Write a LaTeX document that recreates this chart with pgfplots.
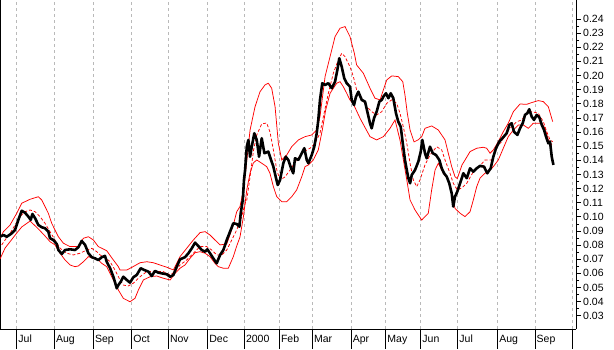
\documentclass[border=0pt]{standalone}
\usepackage{fontspec}
\setmainfont{Liberation Sans}
\usepackage{pgfplots}
\pgfplotsset{compat=1.18}
\begin{document}
\begin{tikzpicture}
\begin{axis}[
  scale only axis, width=576pt, height=329pt,
  xmin=-13.8, xmax=460.7, ymin=0.0206, ymax=0.2534,
  separate axis lines,
  axis x line*=bottom, axis y line*=box,
  axis line style={black, line width=0.8pt},
  tick align=outside,
  xtick={0,31,63.1,94.7,124.9,157.3,187.5,216.3,243.5,275.4,304,332.8,363.3,396.2,426.9,458},
  xticklabels={Jul,Aug,Sep,Oct,Nov,Dec,2000,Feb,Mar,Apr,May,Jun,Jul,Aug,Sep,{}},
  minor x tick num=3,
  xtick pos=left, ytick pos=right, yticklabel pos=right,
  ytick={0.03,0.04,0.05,0.06,0.07,0.08,0.09,0.10,0.11,0.12,0.13,0.14,0.15,0.16,0.17,0.18,0.19,0.20,0.21,0.22,0.23,0.24},
  minor y tick num=1,
  major tick length=5pt, minor tick length=3pt,
  xmajorgrids, major grid style={gray!55, dash pattern=on 3pt off 3pt, line width=0.6pt},
  tick style={black, line width=0.6pt},
  /pgf/number format/assume math mode=true,
  yticklabel style={/pgf/number format/fixed, /pgf/number format/fixed zerofill, /pgf/number format/precision=2, inner sep=1pt, xshift=1pt},
  ticklabel style={font=\fontsize{10.5}{12}\selectfont},
  xticklabel style={anchor=north west, inner sep=0pt, xshift=1.5pt, yshift=-1pt},
  clip=false,
]
\pgfplotsinvokeforeach{0,31,63.1,94.7,124.9,157.3,187.5,216.3,243.5,275.4,304,332.8,363.3,396.2,426.9,458}{
  \draw[black, line width=0.6pt] (axis cs:#1,0.0206) -- ++(0pt,-20pt);
}
% upper band
\addplot[red, line width=0.75pt] coordinates {
(-13.8,0.0848)(-11.0,0.0895)(-5.5,0.0942)(0.0,0.1025)(4.1,0.1096)(11.0,0.1124)(17.8,0.1142)(20.6,0.1119)(23.3,0.1072)(26.0,0.1025)(28.8,0.0954)(31.5,0.0907)(34.3,0.0859)(38.4,0.0813)(43.9,0.0789)(50.7,0.0789)(54.9,0.0848)(59.0,0.0859)(63.1,0.0836)(67.2,0.0789)(74.1,0.0760)(79.6,0.0694)(83.7,0.0647)(85.1,0.0623)(90.6,0.0623)(96.0,0.0648)(101.6,0.0675)(107.1,0.0682)(112.5,0.0675)(118.0,0.0659)(123.6,0.0643)(129.0,0.0624)(131.8,0.0671)(134.5,0.0718)(140.0,0.0777)(145.5,0.0836)(151.0,0.0888)(155.1,0.0895)(159.2,0.0871)(163.3,0.0836)(167.5,0.0801)(173.0,0.0808)(178.4,0.0942)(181.2,0.1036)(183.9,0.1072)(186.7,0.1190)(188.1,0.1284)(192.2,0.1614)(196.3,0.1779)(200.4,0.1885)(204.5,0.1933)(207.2,0.1945)(210.0,0.1910)(212.8,0.1779)(215.5,0.1520)(218.3,0.1402)(222.4,0.1437)(226.5,0.1496)(232.0,0.1544)(237.5,0.1567)(243.0,0.1579)(247.1,0.1614)(249.8,0.1709)(254.0,0.1992)(258.1,0.2133)(262.2,0.2275)(266.3,0.2334)(270.4,0.2346)(274.5,0.2275)(278.1,0.2157)(280.0,0.2074)(285.5,0.2016)(291.0,0.1910)(295.1,0.1839)(299.3,0.1827)(302.0,0.1898)(304.8,0.1968)(308.9,0.1997)(314.3,0.1992)(318.0,0.1956)(319.8,0.1862)(321.7,0.1735)(324.0,0.1614)(327.3,0.1530)(330.6,0.1544)(333.6,0.1567)(336.3,0.1626)(341.8,0.1643)(347.3,0.1614)(352.8,0.1544)(355.5,0.1450)(358.3,0.1355)(361.0,0.1284)(362.9,0.1270)(366.8,0.1367)(369.3,0.1402)(373.4,0.1461)(378.9,0.1485)(384.3,0.1492)(387.1,0.1485)(389.9,0.1450)(392.6,0.1473)(396.7,0.1532)(400.8,0.1602)(404.9,0.1662)(409.1,0.1744)(414.6,0.1798)(420.1,0.1796)(424.2,0.1808)(429.6,0.1822)(433.8,0.1815)(437.9,0.1779)(441.5,0.1673)
};
% lower band
\addplot[red, line width=0.75pt] coordinates {
(-13.8,0.0701)(-9.6,0.0779)(-5.5,0.0824)(0.0,0.0885)(4.1,0.0928)(11.0,0.0970)(17.8,0.0914)(23.3,0.0864)(27.4,0.0824)(31.5,0.0801)(35.7,0.0742)(39.8,0.0694)(43.9,0.0659)(48.0,0.0647)(50.7,0.0652)(54.9,0.0682)(59.0,0.0718)(63.1,0.0706)(67.2,0.0694)(70.0,0.0671)(74.1,0.0647)(78.2,0.0576)(80.9,0.0530)(83.7,0.0482)(87.8,0.0423)(93.3,0.0399)(97.4,0.0423)(100.2,0.0482)(104.3,0.0553)(109.8,0.0576)(115.3,0.0581)(120.8,0.0565)(126.3,0.0553)(130.4,0.0600)(134.5,0.0636)(138.6,0.0659)(142.7,0.0706)(146.9,0.0746)(151.0,0.0753)(155.1,0.0742)(159.2,0.0718)(163.3,0.0671)(166.1,0.0647)(170.2,0.0636)(174.3,0.0636)(178.4,0.0718)(181.2,0.0793)(183.9,0.0857)(186.7,0.0999)(189.5,0.1190)(192.2,0.1310)(194.9,0.1381)(197.7,0.1402)(201.8,0.1379)(205.9,0.1355)(208.6,0.1308)(211.4,0.1213)(214.2,0.1142)(218.3,0.1107)(222.4,0.1107)(226.5,0.1142)(230.6,0.1190)(234.8,0.1284)(237.5,0.1355)(240.2,0.1367)(244.3,0.1402)(248.4,0.1473)(251.7,0.1614)(254.5,0.1756)(258.1,0.1874)(260.8,0.1910)(263.6,0.1945)(266.3,0.1956)(269.0,0.1921)(271.8,0.1874)(274.5,0.1827)(277.3,0.1798)(282.8,0.1697)(291.0,0.1567)(296.5,0.1544)(302.0,0.1567)(307.5,0.1626)(311.6,0.1685)(315.7,0.1544)(318.5,0.1402)(321.3,0.1261)(324.0,0.1119)(328.1,0.1048)(333.6,0.0977)(339.0,0.1025)(341.8,0.1190)(344.6,0.1331)(347.3,0.1379)(351.4,0.1308)(355.5,0.1261)(358.3,0.1166)(361.0,0.1060)(365.2,0.1025)(369.3,0.1001)(373.4,0.1036)(376.1,0.1119)(378.9,0.1213)(381.6,0.1273)(385.7,0.1308)(389.9,0.1331)(392.6,0.1355)(396.7,0.1402)(400.8,0.1485)(404.9,0.1567)(409.1,0.1614)(413.2,0.1650)(417.3,0.1650)(421.4,0.1626)(425.5,0.1662)(432.5,0.1662)(435.2,0.1626)(437.9,0.1544)(440.7,0.1508)
};
% moving average
\addplot[red, line width=0.75pt, dash pattern=on 3pt off 2pt] coordinates {
(-12.4,0.0801)(-9.6,0.0836)(-5.5,0.0883)(-1.4,0.0942)(2.7,0.1001)(6.8,0.1036)(11.0,0.1048)(15.1,0.1036)(19.2,0.1001)(23.3,0.0954)(27.4,0.0895)(31.5,0.0836)(35.7,0.0777)(41.2,0.0742)(46.6,0.0730)(52.1,0.0742)(57.7,0.0765)(61.8,0.0777)(65.9,0.0753)(68.6,0.0730)(72.7,0.0714)(76.9,0.0682)(80.9,0.0624)(85.1,0.0553)(87.8,0.0517)(91.7,0.0510)(96.0,0.0530)(101.6,0.0576)(107.1,0.0612)(112.5,0.0612)(120.8,0.0612)(126.3,0.0588)(130.4,0.0612)(134.5,0.0659)(140.0,0.0694)(145.5,0.0742)(151.0,0.0789)(156.5,0.0789)(160.6,0.0765)(164.7,0.0730)(168.9,0.0730)(173.0,0.0765)(177.1,0.0836)(181.2,0.0907)(185.3,0.1001)(188.1,0.1096)(189.5,0.1118)(192.2,0.1284)(195.1,0.1473)(197.7,0.1579)(201.8,0.1657)(205.9,0.1664)(208.6,0.1600)(211.4,0.1473)(214.2,0.1331)(216.9,0.1261)(221.0,0.1282)(225.1,0.1331)(230.6,0.1402)(236.1,0.1459)(241.6,0.1485)(245.7,0.1520)(249.8,0.1591)(252.6,0.1709)(256.7,0.1874)(260.8,0.2016)(264.9,0.2110)(267.7,0.2157)(270.4,0.2133)(274.5,0.2062)(277.3,0.1992)(280.0,0.1897)(284.2,0.1839)(288.3,0.1779)(292.4,0.1744)(296.5,0.1721)(300.7,0.1744)(304.8,0.1803)(308.9,0.1827)(313.0,0.1803)(315.7,0.1733)(318.4,0.1638)(321.3,0.1520)(324.0,0.1379)(326.7,0.1261)(329.5,0.1213)(332.2,0.1261)(336.3,0.1367)(340.4,0.1437)(345.9,0.1496)(350.1,0.1473)(352.8,0.1402)(356.9,0.1308)(359.6,0.1237)(362.9,0.1190)(366.6,0.1204)(370.7,0.1237)(376.1,0.1319)(381.6,0.1360)(385.7,0.1402)(391.3,0.1402)(395.4,0.1496)(399.5,0.1532)(403.6,0.1602)(407.7,0.1638)(411.9,0.1673)(416.0,0.1685)(420.1,0.1733)(424.2,0.1744)(429.6,0.1733)(433.8,0.1673)(436.6,0.1602)(439.3,0.1544)(441.5,0.1532)
};
% price
\addplot[black, line width=2.6pt, line join=round] coordinates {
(-13.8,0.0859)(-11.0,0.0871)(-8.2,0.0859)(-4.1,0.0883)(-1.4,0.0907)(1.3,0.0978)(4.1,0.1043)(6.8,0.1029)(9.6,0.1001)(11.5,0.0978)(12.9,0.1020)(15.1,0.0990)(17.8,0.0942)(20.6,0.0926)(23.3,0.0919)(26.0,0.0895)(27.4,0.0848)(30.1,0.0836)(32.9,0.0808)(34.3,0.0765)(37.1,0.0737)(39.8,0.0765)(43.9,0.0770)(48.0,0.0765)(50.7,0.0784)(53.5,0.0829)(56.3,0.0801)(59.0,0.0742)(61.8,0.0714)(64.5,0.0706)(67.2,0.0694)(70.0,0.0714)(72.7,0.0723)(74.1,0.0682)(76.9,0.0636)(79.6,0.0576)(82.4,0.0494)(83.7,0.0517)(85.7,0.0541)(87.8,0.0576)(90.6,0.0553)(93.3,0.0534)(96.0,0.0572)(98.8,0.0588)(102.1,0.0636)(104.9,0.0624)(108.4,0.0612)(111.2,0.0581)(113.9,0.0617)(116.6,0.0605)(119.4,0.0600)(123.6,0.0593)(126.3,0.0576)(129.0,0.0588)(131.8,0.0647)(134.5,0.0699)(138.6,0.0714)(141.4,0.0742)(144.2,0.0777)(146.9,0.0817)(149.6,0.0793)(152.4,0.0765)(155.1,0.0753)(157.0,0.0770)(159.2,0.0742)(161.9,0.0706)(164.7,0.0671)(167.5,0.0730)(170.2,0.0765)(173.0,0.0836)(175.7,0.0895)(178.4,0.0954)(181.2,0.0949)(183.4,0.0930)(184.5,0.1025)(186.2,0.1119)(187.2,0.1261)(188.1,0.1331)(189.5,0.1496)(190.8,0.1544)(192.2,0.1425)(193.6,0.1496)(195.7,0.1591)(197.7,0.1544)(199.6,0.1425)(201.8,0.1556)(204.0,0.1450)(207.2,0.1461)(209.5,0.1402)(211.4,0.1355)(213.3,0.1284)(215.0,0.1225)(216.9,0.1261)(219.6,0.1379)(221.6,0.1425)(223.7,0.1402)(226.0,0.1343)(227.8,0.1308)(229.2,0.1414)(232.0,0.1402)(234.8,0.1450)(236.9,0.1485)(238.9,0.1402)(240.2,0.1379)(243.0,0.1437)(245.1,0.1496)(247.1,0.1591)(248.4,0.1685)(249.8,0.1827)(251.7,0.1945)(254.0,0.1933)(256.7,0.1945)(259.5,0.1910)(262.2,0.1956)(264.1,0.2039)(265.7,0.2122)(267.7,0.2062)(269.8,0.1980)(271.8,0.1945)(274.5,0.1921)(275.9,0.1827)(277.8,0.1791)(279.5,0.1850)(281.4,0.1885)(284.2,0.1827)(286.9,0.1815)(288.8,0.1744)(291.0,0.1662)(292.4,0.1626)(294.3,0.1697)(296.5,0.1744)(298.7,0.1815)(300.7,0.1827)(302.0,0.1850)(304.2,0.1874)(306.1,0.1839)(308.1,0.1874)(310.2,0.1839)(312.4,0.1733)(314.3,0.1673)(316.3,0.1638)(318.0,0.1520)(319.8,0.1402)(321.3,0.1331)(322.6,0.1273)(324.0,0.1237)(325.4,0.1296)(328.1,0.1331)(330.8,0.1390)(332.8,0.1461)(334.1,0.1544)(336.3,0.1450)(337.7,0.1414)(340.4,0.1496)(342.7,0.1450)(345.4,0.1437)(348.1,0.1402)(350.1,0.1343)(352.0,0.1308)(354.2,0.1284)(356.3,0.1237)(358.3,0.1166)(359.6,0.1072)(361.0,0.1142)(362.9,0.1178)(365.2,0.1237)(367.9,0.1308)(370.7,0.1273)(373.4,0.1343)(376.1,0.1319)(378.9,0.1343)(381.6,0.1360)(384.9,0.1355)(387.6,0.1308)(390.4,0.1343)(392.6,0.1425)(394.8,0.1485)(397.5,0.1532)(400.8,0.1563)(403.6,0.1591)(405.8,0.1650)(407.7,0.1662)(409.6,0.1602)(412.4,0.1579)(414.6,0.1626)(416.8,0.1662)(418.7,0.1721)(420.6,0.1733)(422.2,0.1761)(424.2,0.1709)(426.1,0.1685)(428.3,0.1721)(430.5,0.1704)(432.5,0.1650)(434.4,0.1614)(436.0,0.1567)(437.9,0.1520)(439.3,0.1532)(440.7,0.1425)(442.1,0.1367)
};
\end{axis}
\pgfresetboundingbox
\path (current axis.north west) rectangle ++(614pt,-349pt);
\end{tikzpicture}
\end{document}
